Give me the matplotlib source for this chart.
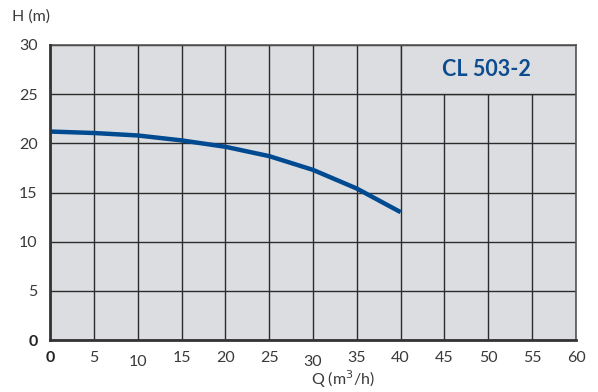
import matplotlib
matplotlib.use('Agg')
import matplotlib.pyplot as plt
from matplotlib.patches import Rectangle

########### Data
Q = [0, 5, 10, 15, 20, 25, 30, 35, 40]                       # flow (m3/h)
H = [21.2, 21.05, 20.8, 20.3, 19.65, 18.7, 17.3, 15.4, 13.0]  # head (m)
x_ticks = [0, 5, 10, 15, 20, 25, 30, 35, 40, 45, 50, 55, 60]
y_ticks = [0, 5, 10, 15, 20, 25, 30]
model_name = 'CL 503-2'
###########

plt.rcParams['font.family'] = ['Lato', 'DejaVu Sans']

fig = plt.figure(figsize=(5.98, 3.92), dpi=100)
ax = fig.add_axes([50/598, 1 - 340/392, 526/598, 295/392])
ax.set_facecolor('#dcdde0')

ax.set_xlim(0, 60)
ax.set_ylim(0, 30)
ax.set_xticks(x_ticks)
ax.set_yticks(y_ticks)
ax.grid(True, color='#2b2b2b', linewidth=1.0)
ax.set_axisbelow(True)

# box for the model name hides the grid in the upper right corner
ax.add_patch(Rectangle((40, 25), 20, 5, facecolor='#dcdde0', edgecolor='#2b2b2b',
                       linewidth=1.0, zorder=1.5))
ax.text(49.8, 27.5, model_name, color='#0d4c8f', fontsize=15.5, fontweight='bold',
        ha='center', va='center', zorder=3)

ax.plot(Q, H, color='#004a92', linewidth=3.2, solid_capstyle='butt', zorder=4)

ax.tick_params(length=0, labelsize=11.5, labelcolor='#3a3a3a')
ax.tick_params(axis='x', pad=8)
ax.tick_params(axis='y', pad=9)
for lbl in ax.get_xticklabels():
    if lbl.get_text() in ('10', '30'):
        lbl.set_y(-0.012)
for lbl in ax.get_xticklabels() + ax.get_yticklabels():
    if lbl.get_text() == '0':
        lbl.set_fontweight('bold')
        lbl.set_color('#222222')

for side in ('left', 'bottom'):
    ax.spines[side].set_linewidth(2.0)
    ax.spines[side].set_color('#333333')
for side in ('top', 'right'):
    ax.spines[side].set_linewidth(1.2)
    ax.spines[side].set_color('#555555')
ax.spines['left'].set_zorder(5)
ax.spines['bottom'].set_zorder(5)

fig.text(12/598, 1 - 17/392, 'H (m)', fontsize=11.5, color='#3a3a3a', va='center', ha='left')
fig.text(343/598, 1 - 379/392, 'Q (m$^3$/h)', fontsize=11.5, color='#3a3a3a', va='center', ha='center')

fig.savefig('out.png', dpi=100)
